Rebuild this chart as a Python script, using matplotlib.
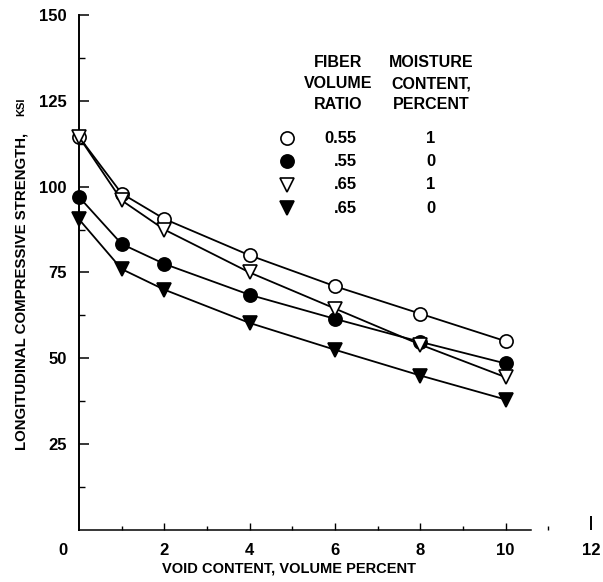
import matplotlib
matplotlib.use("Agg")
import matplotlib.pyplot as plt
import matplotlib.transforms as mtransforms
import numpy as np

plt.rcParams['font.family'] = ['Liberation Sans', 'DejaVu Sans']
plt.rcParams['font.weight'] = 'bold'
plt.rcParams['axes.labelweight'] = 'bold'

void_content = [0, 1, 2, 4, 6, 8, 10]

strength_055_wet = [114.5, 98, 90.6, 80, 71, 63, 55]
strength_055_dry = [97, 83.3, 77.5, 68.5, 61.5, 54.8, 48.5]
strength_065_wet = [114.5, 96, 87.5, 75, 64.5, 54, 44.5]
strength_065_dry = [90.5, 76, 70, 60.3, 52.5, 45, 38]

fiber_ratio_labels = ["0.55", ".55", ".65", ".65"]
moisture_labels = ["1", "0", "1", "0"]

series = [strength_055_wet, strength_055_dry, strength_065_wet, strength_065_dry]
markers = ["o", "o", "v", "v"]
faces = ["white", "black", "white", "black"]

fig = plt.figure(figsize=(6.03, 5.82), dpi=100)
ax = fig.add_axes([0.131, 0.0893, 0.849, 0.885])

for vals, m, fc in zip(series, markers, faces):
    ax.plot(void_content, vals, color="black", lw=1.3, marker=m, ms=9.5,
            mfc=fc, mec="black", mew=1.2, clip_on=False, zorder=3)

ax.set_xlim(0, 12)
ax.set_ylim(0, 150)

ax.spines["top"].set_visible(False)
ax.spines["right"].set_visible(False)
ax.spines["left"].set_linewidth(1.4)
ax.spines["bottom"].set_linewidth(1.1)
ax.spines["bottom"].set_bounds(0, 10.6)

ax.set_yticks(np.arange(25, 151, 25))
ax.set_yticks(np.arange(12.5, 150, 25), minor=True)
ax.set_xticks(np.arange(0, 13, 2))
ax.set_xticks(np.arange(1, 12, 2), minor=True)
ax.tick_params(axis="y", which="major", direction="in", length=7, width=1.1,
               pad=9, labelsize=12)
ax.tick_params(axis="y", which="minor", direction="in", length=4, width=1.0)
ax.tick_params(axis="x", which="major", direction="in", length=5, width=1.0,
               pad=9, labelsize=12)
ax.tick_params(axis="x", which="minor", direction="in", length=3, width=1.0)

# the 12 tick is a longer stroke, the 0 label sits left of the corner
xt = ax.xaxis.get_major_ticks()
xt[-1].tick1line.set_markersize(10)
xt[-1].tick1line.set_markeredgewidth(1.4)
xt[0].tick1line.set_visible(False)
xt[0].label1.set_transform(xt[0].label1.get_transform()
                           + mtransforms.ScaledTranslation(-0.16, 0, fig.dpi_scale_trans))

ax.set_xlabel("VOID CONTENT, VOLUME PERCENT", fontsize=10.5)
ax.xaxis.set_label_coords(0.411, -0.062)

fig.text(0.035, 0.2268, "LONGITUDINAL COMPRESSIVE STRENGTH,", rotation=90,
         ha="center", va="bottom", fontsize=10.8)
fig.text(0.035, 0.80, "KSI", rotation=90, ha="center", va="bottom", fontsize=8)

# legend table
hdr_kw = dict(transform=ax.transAxes, ha="center", va="center", fontsize=11.5,
              linespacing=1.5)
ax.text(0.506, 0.866, "FIBER\nVOLUME\nRATIO", **hdr_kw)
ax.text(0.6875, 0.866, "MOISTURE\nCONTENT,\nPERCENT", **hdr_kw)
row_y = 0.761 - 0.0455 * np.arange(len(fiber_ratio_labels))
for yy, m, fc, fr, mc in zip(row_y, markers, faces, fiber_ratio_labels, moisture_labels):
    ax.plot([0.406], [yy], transform=ax.transAxes, ls="none", marker=m, ms=9.5,
            mfc=fc, mec="black", mew=1.2)
    ax.text(0.543, yy, fr, transform=ax.transAxes, ha="right", va="center", fontsize=12)
    ax.text(0.6875, yy, mc, transform=ax.transAxes, ha="center", va="center", fontsize=12)

fig.savefig("out.png", dpi=100)
